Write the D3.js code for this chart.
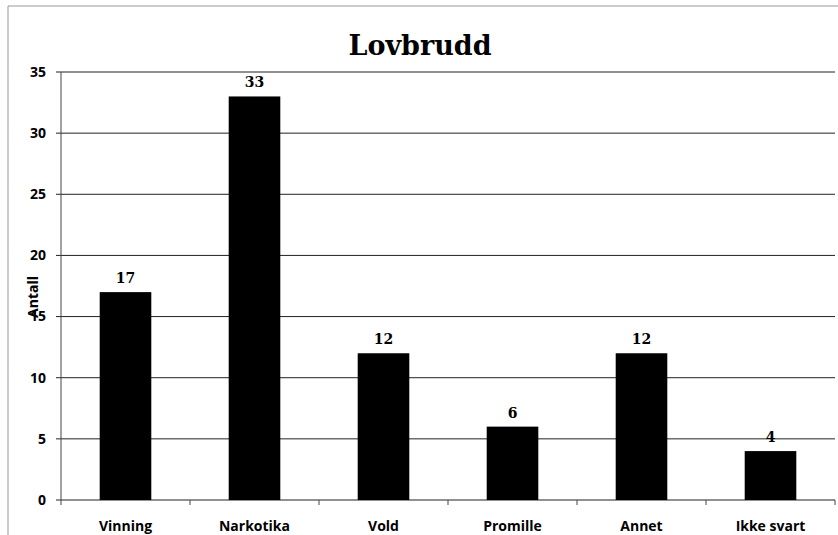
<!DOCTYPE html>
<html><head><meta charset="utf-8">
<script src="https://cdn.jsdelivr.net/npm/d3@7"></script>
<style>body{margin:0;background:#fff;}svg{display:block;}</style>
</head><body>
<script>
const categories = ["Vinning","Narkotika","Vold","Promille","Annet","Ikke svart"];
const values = [17,33,12,6,12,4];
const yTicks = [0,5,10,15,20,25,30,35];
const title = "Lovbrudd";
const yLabel = "Antall";

const W = 838, H = 535;
const svg = d3.select("body").append("svg").attr("width",W).attr("height",H);
const m = {left:61, right:3, top:72, bottom:35};
const x = d3.scaleBand().domain(categories).range([m.left, W-m.right]).paddingInner(0.6).paddingOuter(0.3);
const y = d3.scaleLinear().domain([0,35]).range([H-m.bottom, m.top]);

// outer border
svg.append("path").attr("d",`M8,${H} L8,6 L${W},6`).attr("fill","none").attr("stroke","#999").attr("stroke-width",1);

// gridlines
svg.append("g").selectAll("line").data(yTicks).join("line")
  .attr("x1",m.left-5).attr("x2",W-m.right).attr("y1",d=>y(d)).attr("y2",d=>y(d))
  .attr("stroke","#222").attr("stroke-width",1);
// y axis line
svg.append("line").attr("x1",m.left).attr("x2",m.left).attr("y1",y(35)).attr("y2",y(0)).attr("stroke","#444");
// x category ticks
const bounds = d3.range(categories.length+1).map(i=>m.left + i*((W-m.right-m.left)/categories.length));
svg.append("g").selectAll("line").data(bounds).join("line")
  .attr("x1",d=>d).attr("x2",d=>d).attr("y1",y(0)).attr("y2",y(0)+5).attr("stroke","#444");

// y tick labels
svg.append("g").selectAll("text").data(yTicks).join("text")
  .attr("x",46).attr("y",d=>y(d)).attr("dy","0.35em").attr("text-anchor","end")
  .attr("font-family","'Open Sans', 'DejaVu Sans', sans-serif").attr("font-weight","bold").attr("font-size",14)
  .text(d=>d);

// bars
svg.append("g").selectAll("rect").data(values).join("rect")
  .attr("x",(d,i)=>x(categories[i])).attr("width",x.bandwidth())
  .attr("y",d=>y(d)).attr("height",d=>y(0)-y(d)).attr("fill","#000");

// data labels
svg.append("g").selectAll("text").data(values).join("text")
  .attr("x",(d,i)=>x(categories[i])+x.bandwidth()/2).attr("y",d=>y(d)-9)
  .attr("text-anchor","middle").attr("font-family","'DejaVu Serif', serif").attr("font-weight","bold").attr("font-size",14)
  .text(d=>d);

// category labels
svg.append("g").selectAll("text").data(categories).join("text")
  .attr("x",d=>x(d)+x.bandwidth()/2).attr("y",531)
  .attr("text-anchor","middle").attr("font-family","'Open Sans', 'DejaVu Sans', sans-serif").attr("font-weight","bold").attr("font-size",14)
  .text(d=>d);

// title
svg.append("text").attr("x",420).attr("y",55).attr("text-anchor","middle")
  .attr("font-family","'DejaVu Serif', serif").attr("font-weight","bold").attr("font-size",27).text(title);

// y label
svg.append("text").attr("transform","translate(38,297) rotate(-90)").attr("text-anchor","middle")
  .attr("font-family","'Open Sans', 'DejaVu Sans', sans-serif").attr("font-weight","bold").attr("font-size",14).text(yLabel);
</script>
</body></html>
